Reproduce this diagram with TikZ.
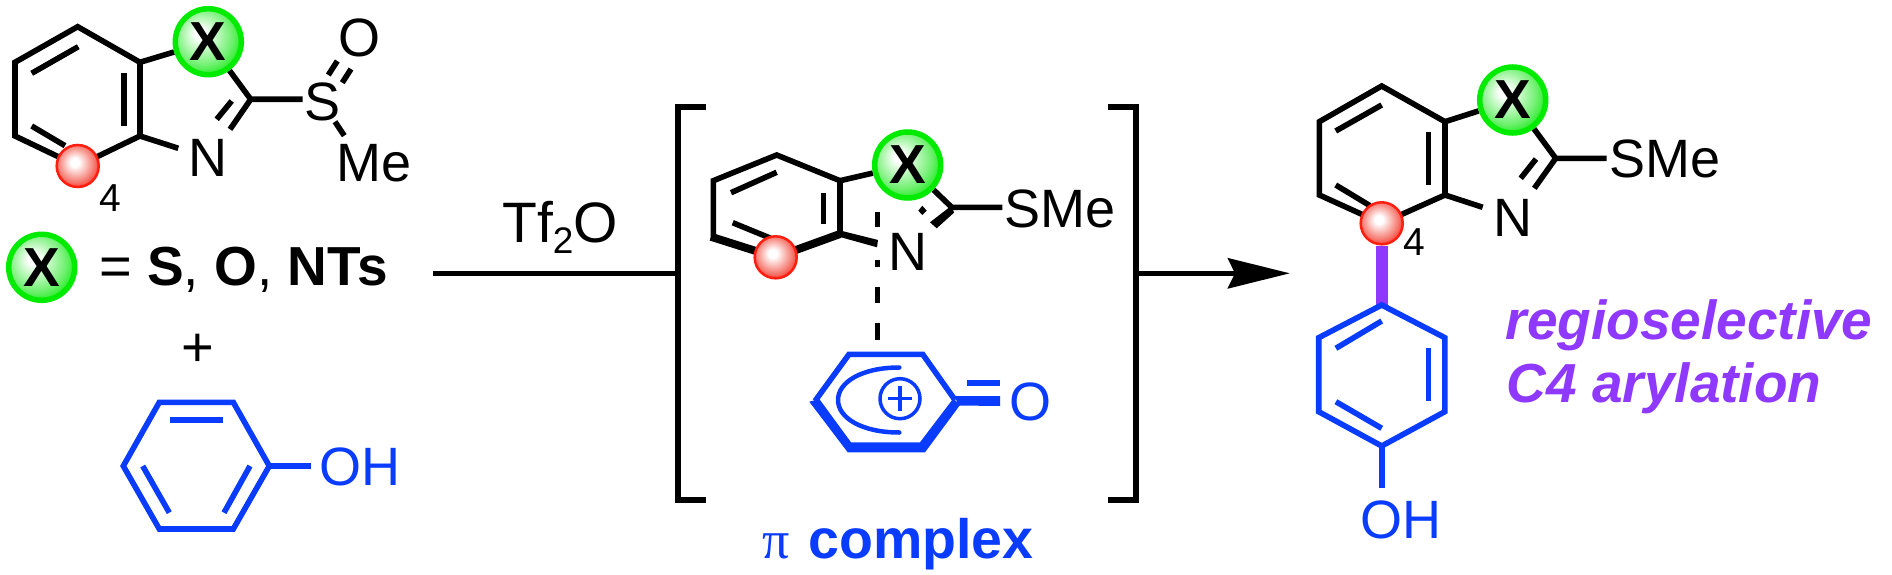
\documentclass[tikz,border=0pt]{standalone}
\usepackage{fontspec}
\setmainfont{Liberation Sans}
\newfontfamily\pifont{Liberation Serif}
\usetikzlibrary{arrows.meta,backgrounds}
\definecolor{grn}{RGB}{0,235,0}
\definecolor{grnmid}{RGB}{110,240,110}
\definecolor{rd}{RGB}{255,30,15}
\definecolor{rdmid}{RGB}{245,120,110}
\definecolor{blu}{RGB}{10,60,255}
\definecolor{pur}{RGB}{143,56,255}
\pgfdeclareradialshading{greenball}{\pgfpoint{-7bp}{7bp}}{color(0bp)=(white); color(4bp)=(white); color(22bp)=(grnmid); color(32bp)=(grn); color(50bp)=(grn)}
\pgfdeclareradialshading{redball}{\pgfpoint{-4bp}{5bp}}{color(0bp)=(white); color(5bp)=(white); color(22bp)=(rdmid); color(31bp)=(rd); color(50bp)=(rd)}
\newcommand{\fs}[1]{\fontsize{#1}{#1}\selectfont}
\tikzset{
  bond/.style={line width=5.6pt,line join=miter,draw=black},
  bluebond/.style={bond,draw=blu},
  xball/.style={circle,inner sep=0pt,minimum size=66pt,line width=5.5pt,draw=grn,shading=greenball,font=\fs{55}\bfseries,text=black},
  rball/.style={circle,inner sep=0pt,minimum size=42pt,line width=2.5pt,draw=rd,shading=redball},
  lab/.style={inner sep=0pt,anchor=base,font=\fs{54},text=black},
  labw/.style={lab,anchor=base west},
  bluelab/.style={lab,text=blu},
  bluelabw/.style={labw,text=blu},
  purlab/.style={labw,font=\fs{55}\bfseries\itshape,text=pur}
}
\begin{document}
\begin{tikzpicture}[x=1pt,y=-1pt]
\useasboundingbox (0,0) rectangle (1892,575);
\begin{scope}[on background layer]
\fill[white] (0,0) rectangle (1892,575);
\end{scope}

% ---------- labels and balls: left substrate
\node[xball] (ax) at (208.3,41.7) {X};
\node[rball] (ar) at (77.7,166) {};
\node[lab] (an) at (208.3,176.7) {N};
\node[lab] (as) at (322.7,120.7) {S};
\node[lab] (ao) at (359.3,56.7) {O};
\node[labw] (ame) at (336.5,181.7) {Me};
\node[lab,font=\fs{39}] (a4) at (110,211.7) {4};
\node[xball] (lx) at (41.7,267.3) {X};
\node[lab,font=\fs{56}] (leq) at (115.7,285) {=};
\node[labw,font=\fs{55}\bfseries] (lset) at (147,285) {S\mdseries,\bfseries{} O\mdseries,\bfseries{} NTs};
\node[lab,font=\fs{56}] (plus) at (197.5,366) {+};
\node[bluelabw] (poh) at (319,485.5) {OH};

% ---------- coordinates: left substrate
\coordinate (a1) at (77.7,26.7);
\coordinate (a2) at (15,62.3);
\coordinate (a3) at (15,136);
\coordinate (a5) at (140,136);
\coordinate (a6) at (140,62.3);
\coordinate (a7) at (250.7,99.3);
\coordinate (a8) at (302.7,99.3);
\coordinate (a9) at (230,129.3);
\coordinate (a10) at (178.3,148.3);
\begin{scope}[on background layer]
\draw[bond] (a1) -- (a2) -- (a3) -- (ar.center) -- (a5) -- (a6) -- cycle;
\draw[bond] (78.3,46.7) -- (31.7,73.3);
\draw[bond] (124,73.3) -- (124,126);
\draw[bond] (31.7,126) -- (65,145.7);
\draw[bond] (a6) -- (ax);
\draw[bond] (ax) -- (a7) -- (a8);
\draw[bond] (a7) -- (a9);
\draw[bond] (231.7,101) -- (216.7,119.3);
\draw[bond] (a5) -- (a10);
\draw[bond] (337.3,61) -- (328.3,75);
\draw[bond] (351,69) -- (342.3,82.7);
\draw[bond] (335,121.7) -- (344.3,135.7);
\end{scope}

% ---------- phenol
\coordinate (p1) at (159.3,402.3);
\coordinate (p2) at (233.3,402.3);
\coordinate (p3) at (269.3,466);
\coordinate (p4) at (233.3,529);
\coordinate (p5) at (159.3,529);
\coordinate (p6) at (123.3,466);
\coordinate (p7) at (310.7,466);
\draw[bluebond] (p1) -- (p2) -- (p3) -- (p4) -- (p5) -- (p6) -- cycle;
\draw[bluebond] (170,419.7) -- (223.3,419.7);
\draw[bluebond] (142.7,466) -- (169.3,512.7);
\draw[bluebond] (250,466) -- (224,512.7);
\draw[bluebond] (p3) -- (p7);

% ---------- arrow with reagent, brackets
\node[labw,font=\fs{57}] (tf) at (502,242.7) {Tf\raisebox{-11pt}{\fs{37}2}O};
\coordinate (arrs) at (433.3,273.3);
\coordinate (bl1) at (706,107.3);
\coordinate (bl2) at (677.7,107.3);
\coordinate (bl3) at (677.7,500);
\coordinate (bl4) at (706,500);
\coordinate (blm) at (677.7,273.3);
\coordinate (br1) at (1108.3,107.3);
\coordinate (br2) at (1136,107.3);
\coordinate (br3) at (1136,500);
\coordinate (br4) at (1108.3,500);
\coordinate (brm) at (1136,273.3);
\coordinate (arre) at (1290,273.3);
\draw[bond] (bl1) -- (bl2) -- (bl3) -- (bl4);
\draw[bond] (br1) -- (br2) -- (br3) -- (br4);
\draw[bond] (arrs) -- (blm);
\draw[bond,-{Stealth[length=62pt,width=30pt,inset=7pt]}] (brm) -- (arre);

% ---------- pi complex: benzothiazole part
\node[xball] (cx) at (907.7,165) {X};
\node[rball] (cr) at (775.7,257.3) {};
\node[lab] (cn) at (907.7,270) {N};
\node[labw] (csme) at (1004,227.3) {SMe};
\coordinate (c1) at (776.7,155);
\coordinate (c2) at (713.3,180.7);
\coordinate (c3) at (713.3,236.7);
\coordinate (c5) at (840,234);
\coordinate (c6) at (840,180.7);
\coordinate (c7) at (951.7,207.3);
\coordinate (c8) at (1002.3,207.3);
\begin{scope}[on background layer]
\draw[bond] (c3) -- (c2) -- (c1) -- (c6) -- (c5);
\draw[bond] (776.7,172.3) -- (731,192.7);
\draw[bond] (823.3,192.7) -- (823.3,224);
\draw[bond] (732.7,222.7) -- (770,238);
\draw[bond,line width=8pt] ([xshift=-2.5pt]c3) -- (cr.center);
\draw[bond,line width=8pt] (cr.center) -- (c5);
\fill[black] (840,230.5) -- (878,240) -- (877,247.3) -- (840,237) -- cycle;
\draw[bond] (c6) -- (cx);
\draw[bond] (cx) -- (c7) -- (c8);
\fill[black] (951.7,205.5) -- (954,212.7) -- (936.7,228.3) -- (930,222.3) -- cycle;
\fill[black] (922.3,205.7) -- (926.7,210.7) -- (922.3,215) -- (918.3,210.7) -- cycle;
\draw[bond] (877.3,211.7) -- (877.3,226.7);
\draw[bond] (877.3,260) -- (877.3,266.7);
\draw[bond] (877.3,286.7) -- (877.3,303.3);
\draw[bond] (877.3,323.3) -- (877.3,340);
\end{scope}

% ---------- pi complex: cation
\coordinate (k1) at (849,354.3);
\coordinate (k2) at (922.7,354.3);
\coordinate (k3) at (955,400);
\coordinate (k6) at (815,401);
\draw[bluebond] (k6) -- (k1) -- (k2) -- (k3);
\fill[blu] (809.3,401.7) -- (847.7,452.3) -- (925,452.3) -- (960,405) -- (953.3,398.5) -- (920,442.3) -- (851,442.3) -- (819.3,399) -- cycle;
\fill[blu] (955,396) -- (1000,396) -- (1000,406) -- (958,405.5) -- cycle;
\fill[blu] (967.3,380) rectangle (1000,385.7);
\node[bluelab] (ko) at (1030,420) {O};
\draw[blu,line width=4.5pt,line cap=round] (899.3,367.5) .. controls (862,367.5) and (838,382) .. (838,400) .. controls (838,418) and (862,432.5) .. (899.3,432.5);
\node[circle,draw=blu,line width=3.5pt,minimum size=40pt,inner sep=0pt] (kp) at (900,398.7) {};
\draw[blu,line width=3.5pt] ([xshift=-12.3pt]kp.center) -- ([xshift=12.3pt]kp.center);
\draw[blu,line width=3.5pt] ([yshift=-12.3pt]kp.center) -- ([yshift=12.3pt]kp.center);
\node[bluelabw] (cap) at (762,558.3) {{\pifont\fs{54}π}\hspace{19pt}{\fs{55.5}\bfseries complex}};

% ---------- product
\node[xball] (dx) at (1512.7,100) {X};
\node[rball] (dr) at (1381.7,223.3) {};
\node[lab] (dn) at (1512.7,236) {N};
\node[labw] (dsme) at (1609,177.3) {SMe};
\node[lab,font=\fs{39}] (d4) at (1414.3,255) {4};
\coordinate (d1) at (1381.7,86);
\coordinate (d2) at (1319.3,121.7);
\coordinate (d3) at (1319.3,195);
\coordinate (d5) at (1445,195);
\coordinate (d6) at (1445,121.7);
\coordinate (d7) at (1555.7,158.3);
\coordinate (d8) at (1606.7,158.3);
\coordinate (d9) at (1534.3,188.3);
\coordinate (d10) at (1482.7,207.3);
\begin{scope}[on background layer]
\draw[bond] (d1) -- (d2) -- (d3) -- (dr.center) -- (d5) -- (d6) -- cycle;
\draw[bond] (1381.7,105) -- (1335.7,131);
\draw[bond] (1428.3,132.3) -- (1428.3,185);
\draw[bond] (1335.7,185) -- (1370,205.7);
\draw[bond] (d6) -- (dx);
\draw[bond] (dx) -- (d7) -- (d8);
\draw[bond] (d7) -- (d9);
\draw[bond] (1536,159) -- (1520.7,178.3);
\draw[bond] (d5) -- (d10);
\end{scope}
\coordinate (e1) at (1381.7,305);
\coordinate (e2) at (1444.8,337.7);
\coordinate (e3) at (1444.8,411.7);
\coordinate (e4) at (1381.7,446);
\coordinate (e5) at (1318.7,411.7);
\coordinate (e6) at (1318.7,337.7);
\coordinate (e7) at (1381.7,488);
\draw[pur,line width=12.3pt] (dr) -- (e1);
\draw[bluebond] (e1) -- (e2) -- (e3) -- (e4) -- (e5) -- (e6) -- cycle;
\draw[bluebond] (1381.7,321) -- (1335.9,348.3);
\draw[bluebond] (1428.3,348.3) -- (1428.3,400.7);
\draw[bluebond] (1335.9,401.7) -- (1381.7,428.3);
\draw[bluebond] (e4) -- (e7);
\node[bluelabw] (doh) at (1360,538) {OH};
\node[purlab] (t1) at (1505.5,339.3) {regioselective};
\node[purlab] (t2) at (1506.5,402.3) {C4 arylation};
\end{tikzpicture}
\end{document}
